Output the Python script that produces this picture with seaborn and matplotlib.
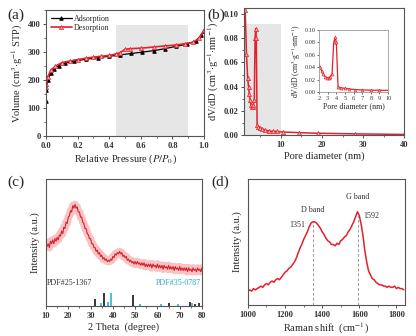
import numpy as np
import pandas as pd
import matplotlib
matplotlib.use("Agg")
import matplotlib.pyplot as plt
from matplotlib.ticker import MultipleLocator, FormatStrFormatter
import seaborn as sns

# ---- (a) N2 sorption isotherm ----
ads_p = [0.0, 0.003, 0.01, 0.03, 0.05, 0.08, 0.12, 0.18, 0.25, 0.33, 0.40, 0.47,
         0.54, 0.61, 0.68, 0.75, 0.82, 0.89, 0.95, 0.98, 1.0]
ads_v = [125, 165, 200, 225, 240, 252, 260, 268, 274, 280, 285, 290,
         295, 300, 305, 312, 320, 328, 340, 360, 375]
des_p = [1.0, 0.97, 0.93, 0.88, 0.82, 0.75, 0.68, 0.60, 0.53, 0.50, 0.47, 0.44,
         0.40, 0.35, 0.30, 0.25, 0.20, 0.15, 0.10, 0.06, 0.03, 0.01, 0.003, 0.0]
des_v = [380, 350, 335, 330, 325, 322, 318, 314, 312, 310, 298, 293,
         288, 285, 282, 278, 273, 268, 262, 250, 235, 210, 185, 175]

# ---- (b) pore size distribution ----
pore_d = [1.3, 1.6, 1.9, 2.1, 2.3, 2.5, 2.7, 2.9, 3.1, 3.3, 3.5, 3.7, 3.85, 4.0,
          4.2, 4.5, 5.0, 5.5, 6.2, 7.0, 8.0, 9.0, 10.5, 14.5, 19.0, 28.0, 40.0]
pore_v = [0.103, 0.067, 0.047, 0.040, 0.034, 0.029, 0.025, 0.023, 0.023, 0.025,
          0.029, 0.080, 0.088, 0.080, 0.008, 0.007, 0.006, 0.005, 0.004, 0.0035,
          0.003, 0.003, 0.0025, 0.002, 0.0015, 0.001, 0.0005]

# ---- (c) XRD, sampled every 0.5 degree from 10 to 80 ----
xrd_2t = np.arange(10, 80.25, 0.5)
xrd_i = [50, 47, 49, 46, 51, 49, 52, 49, 53, 51,
         54, 52, 56, 55, 59, 57, 62, 61, 66, 65,
         70, 71, 75, 74, 79, 77, 80, 77, 78, 74,
         74, 70, 70, 66, 65, 61, 61, 57, 56, 53,
         53, 49, 49, 46, 46, 43, 44, 41, 42, 39,
         40, 37, 38, 36, 37, 35, 36, 35, 37, 36,
         39, 38, 41, 40, 42, 41, 43, 41, 42, 39,
         40, 38, 39, 36, 37, 35, 36, 34, 35, 33,
         35, 33, 35, 33, 34, 32, 34, 32, 34, 31,
         33, 31, 33, 31, 33, 30, 33, 31, 32, 30,
         33, 30, 32, 30, 32, 29, 32, 30, 31, 29,
         32, 29, 31, 29, 31, 28, 31, 29, 30, 28,
         31, 28, 30, 28, 30, 28, 30, 27, 30, 28,
         29, 27, 30, 28, 29, 27, 30, 28, 29, 27,
         30]
pdf1_pos = [32.0, 36.2, 49.2, 65.3, 74.6, 76.9, 78.8]
pdf1_h = [5.3, 10.5, 8.7, 2.4, 3.1, 1.6, 2.4]
pdf2_pos = [34.5, 37.9, 39.2, 52.2, 61.4, 69.4, 75.4]
pdf2_h = [2.6, 3.4, 10.2, 1.2, 1.6, 1.6, 2.0]

# ---- (d) Raman, sampled every 10 cm-1 from 1000 to 1840 ----
raman_x = np.arange(1000, 1841, 10)
raman_y = [11, 12, 11, 13, 12, 13, 14, 15, 14, 16,
           17, 16, 18, 19, 18, 20, 21, 20, 22, 24,
           26, 27, 29, 30, 32, 34, 37, 41, 45, 48,
           52, 55, 58, 62, 65, 66, 66, 65, 63, 61,
           58, 56, 53, 51, 50, 48, 48, 47, 49, 48,
           51, 52, 54, 55, 58, 60, 63, 66, 70, 74,
           71, 64, 55, 43, 34, 27, 24, 21, 20, 18,
           17, 16, 16, 15, 15, 14, 15, 14, 14, 15,
           13, 14, 13, 13, 12]
band_pos = [1351, 1592]
band_names = ["D band", "G band"]

sns.set_theme(style="ticks")
plt.rcParams["font.family"] = ["Liberation Serif", "DejaVu Serif"]
plt.rcParams["mathtext.fontset"] = "stix"
plt.rcParams["axes.edgecolor"] = "#555555"
plt.rcParams["axes.linewidth"] = 0.8
plt.rcParams["xtick.color"] = "#333333"
plt.rcParams["ytick.color"] = "#333333"

RED = "#e3202b"
TICK_FS = 6
LAB_FS = 7.5

fig = plt.figure(figsize=(4.16, 3.36), dpi=100)


def style_ticks(ax):
    ax.tick_params(which="major", length=2.5, width=0.6, labelsize=TICK_FS, pad=1.5)
    ax.tick_params(which="minor", length=1.5, width=0.5)
    for lab in ax.get_xticklabels() + ax.get_yticklabels():
        lab.set_fontweight("bold")


# (a)
ax_a = fig.add_axes([0.1106, 0.595, 0.380, 0.375])
ax_a.axvspan(0.44, 0.90, ymin=0, ymax=395 / 450, color="#e6e6e6", lw=0, zorder=0)
sns.lineplot(x=ads_p, y=ads_v, ax=ax_a, color="black", lw=0.9, marker="^", ms=2.5,
             mec="black", sort=False, estimator=None, label="Adsorption")
sns.lineplot(x=des_p, y=des_v, ax=ax_a, color=RED, lw=1.2, marker="^", ms=3,
             mfc="#f3a0a0", mec=RED, mew=0.5, sort=False, estimator=None,
             label="Desorption")
ax_a.set_xlim(0, 1.0)
ax_a.set_ylim(0, 450)
ax_a.xaxis.set_major_locator(MultipleLocator(0.2))
ax_a.xaxis.set_minor_locator(MultipleLocator(0.1))
ax_a.yaxis.set_major_locator(MultipleLocator(100))
ax_a.yaxis.set_minor_locator(MultipleLocator(50))
ax_a.set_xlabel(r"Relative Pressure ($P/P_0$)", fontsize=LAB_FS, labelpad=2)
ax_a.set_ylabel(r"Volume (cm$^{3}$$\cdot$g$^{-1}$ STP)", fontsize=LAB_FS, labelpad=2)
ax_a.legend(loc="upper left", frameon=False, fontsize=5.8, handlelength=2.6,
            borderaxespad=0.2, labelspacing=0.1, handletextpad=0.3)
style_ticks(ax_a)

# (b)
ax_b = fig.add_axes([0.5865, 0.598, 0.385, 0.378])
ax_b.axvspan(1, 10, ymin=0, ymax=0.0915 / 0.105, color="#e6e6e6", lw=0, zorder=0)
sns.lineplot(x=pore_d, y=pore_v, ax=ax_b, color=RED, lw=1.1, marker="^", ms=3,
             mfc="#f3a0a0", mec=RED, mew=0.5, sort=False, estimator=None)
ax_b.set_xlim(1, 40)
ax_b.set_ylim(0, 0.105)
ax_b.xaxis.set_major_locator(MultipleLocator(10))
ax_b.xaxis.set_minor_locator(MultipleLocator(5))
ax_b.yaxis.set_major_locator(MultipleLocator(0.02))
ax_b.yaxis.set_minor_locator(MultipleLocator(0.01))
ax_b.yaxis.set_major_formatter(FormatStrFormatter("%.2f"))
ax_b.set_xlabel("Pore diameter (nm)", fontsize=LAB_FS, labelpad=2)
ax_b.set_ylabel(r"dV/dD (cm$^{3}$$\cdot$g$^{-1}$$\cdot$nm$^{-1}$)", fontsize=LAB_FS,
                labelpad=2)
style_ticks(ax_b)

# inset of (b): zoom on the mesopore region
ax_i = fig.add_axes([0.767, 0.726, 0.166, 0.185])
sns.lineplot(x=pore_d, y=pore_v, ax=ax_i, color=RED, lw=0.9, marker="^", ms=2.2,
             mfc="#f3a0a0", mec=RED, mew=0.4, sort=False, estimator=None)
ax_i.set_xlim(2, 10)
ax_i.set_ylim(0, 0.10)
ax_i.xaxis.set_major_locator(MultipleLocator(1))
ax_i.yaxis.set_major_locator(MultipleLocator(0.02))
ax_i.yaxis.set_major_formatter(FormatStrFormatter("%.2f"))
ax_i.set_xlabel("Pore diameter (nm)", fontsize=5.8, labelpad=1)
ax_i.set_ylabel(r"dV/dD (cm$^{3}$$\cdot$g$^{-1}$$\cdot$nm$^{-1}$)", fontsize=5.5,
                labelpad=1)
ax_i.tick_params(length=1.5, width=0.5, labelsize=4.5, pad=1)
for sp in ax_i.spines.values():
    sp.set_color("#999999")
    sp.set_linewidth(0.6)

# (c)
ax_c = fig.add_axes([0.1106, 0.0893, 0.375, 0.378])
sns.lineplot(x=xrd_2t, y=xrd_i, ax=ax_c, color="#f26a6a", lw=5.5, alpha=0.4,
             sort=False, estimator=None)
sns.lineplot(x=xrd_2t, y=xrd_i, ax=ax_c, color="#d41f2c", lw=0.8,
             sort=False, estimator=None)
ax_c.vlines(pdf1_pos, 0, pdf1_h, color="black", lw=1.1)
ax_c.vlines(pdf2_pos, 0, pdf2_h, color="#2aa9c9", lw=1.1)
ax_c.text(10.5, 18, "PDF#25-1367", fontsize=5.8, color="#333333", va="center")
ax_c.text(79.5, 18, "PDF#35-0787", fontsize=5.8, color="#2aa9c9", va="center",
          ha="right")
ax_c.set_xlim(10, 80)
ax_c.set_ylim(0, 100)
ax_c.xaxis.set_major_locator(MultipleLocator(10))
ax_c.xaxis.set_minor_locator(MultipleLocator(5))
ax_c.set_yticks([])
ax_c.set_xlabel("2 Theta  (degree)", fontsize=LAB_FS, labelpad=2)
ax_c.set_ylabel("Intensity (a.u.)", fontsize=LAB_FS, labelpad=4)
style_ticks(ax_c)

# (d)
ax_d = fig.add_axes([0.596, 0.0923, 0.377, 0.375])
sns.lineplot(x=raman_x, y=raman_y, ax=ax_d, color=RED, lw=1.1,
             sort=False, estimator=None)
for pos, name, dy_name, dx_num, ha_num in zip(band_pos, band_names, [8, 11],
                                              [-40, 30], ["right", "left"]):
    peak = float(np.interp(pos, raman_x, raman_y))
    ax_d.vlines(pos, 0, peak, color="#999999", lw=0.7, linestyles=(0, (3, 2)))
    ax_d.text(pos, peak + dy_name, name, fontsize=5.8, ha="center", color="#333333")
    ax_d.text(pos + dx_num, peak - 4, str(pos), fontsize=5.8, ha=ha_num,
              color="#333333")
ax_d.set_xlim(1000, 1845)
ax_d.set_ylim(0, 100)
ax_d.xaxis.set_major_locator(MultipleLocator(200))
ax_d.xaxis.set_minor_locator(MultipleLocator(100))
ax_d.set_yticks([])
ax_d.set_xlabel(r"Raman shift  (cm$^{-1}$)", fontsize=LAB_FS, labelpad=2)
ax_d.set_ylabel("Intensity (a.u.)", fontsize=LAB_FS, labelpad=4)
style_ticks(ax_d)

# panel letters
for x, y, s in [(0.018, 0.955, "(a)"), (0.498, 0.955, "(b)"),
                (0.018, 0.458, "(c)"), (0.507, 0.458, "(d)")]:
    fig.text(x, y, s, fontsize=11, va="center", ha="left")

fig.savefig("out.png", dpi=100)
